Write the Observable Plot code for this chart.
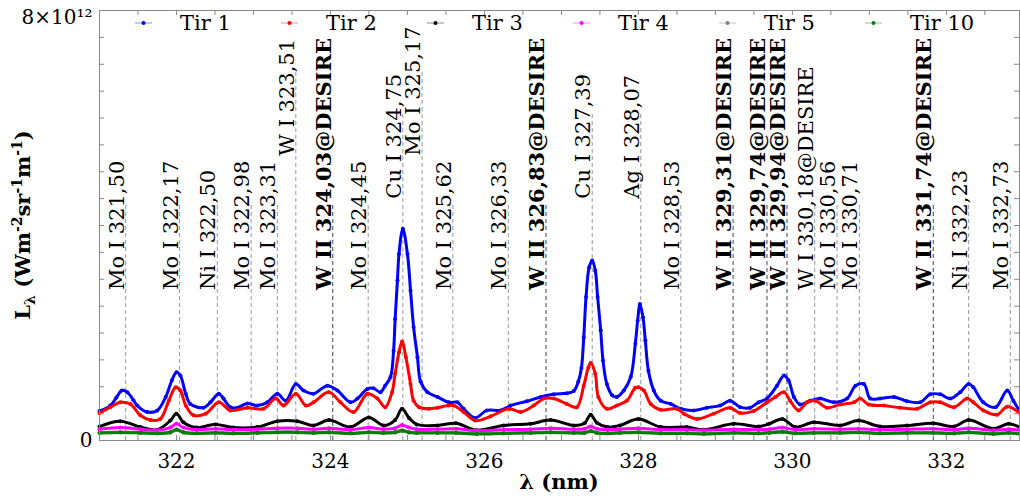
<!DOCTYPE html>
<html><head><meta charset="utf-8">
<script src="https://cdn.jsdelivr.net/npm/d3@7"></script>
<script src="https://cdn.jsdelivr.net/npm/@observablehq/plot@0.6"></script>
<style>
body{margin:0;background:#fff;font-family:"DejaVu Serif",serif;}
#wrap{position:relative;width:1020px;height:500px;}
#legend{position:absolute;left:135px;top:11px;display:flex;font:21px "DejaVu Serif",serif;line-height:24px;color:#000;}
.item{width:146px;display:flex;align-items:center;}
.item svg{margin-right:28px;}
</style></head>
<body><div id="wrap"><div id="chart"></div><div id="legend"></div></div>
<script>
// ---- data (intensity in units of 10^12 W m^-2 sr^-1 m^-1) ----
const series = ["Tir 1","Tir 2","Tir 3","Tir 4","Tir 5","Tir 10"];
const colors = ["#0000ff","#ff0000","#000000","#ff00ff","#808080","#008000"];

const tir1Nm = [321.00,321.14,321.22,321.29,321.36,321.44,321.49,321.62,321.75,321.86,
321.94,322.00,322.05,322.12,322.18,322.35,322.44,322.55,322.61,322.70,
322.79,322.92,323.05,323.18,323.31,323.42,323.55,323.65,323.78,323.96,
324.09,324.26,324.35,324.48,324.56,324.65,324.71,324.78,324.82,324.84,
324.87,324.89,324.94,325.00,325.04,325.08,325.13,325.17,325.26,325.39,
325.54,325.65,325.73,325.88,326.03,326.21,326.34,326.55,326.73,326.90,
327.07,327.16,327.22,327.26,327.29,327.32,327.36,327.40,327.44,327.47,
327.51,327.54,327.59,327.66,327.72,327.81,327.90,327.96,327.99,328.02,
328.06,328.09,328.13,328.20,328.29,328.42,328.55,328.72,328.89,329.06,
329.19,329.32,329.45,329.56,329.67,329.80,329.89,329.95,330.02,330.10,
330.23,330.36,330.54,330.71,330.82,330.93,331.01,331.14,331.32,331.49,
331.66,331.79,331.92,332.05,332.18,332.29,332.35,332.48,332.64,332.79,
332.87,332.96];
const tir1 = [0.55,0.65,0.80,0.93,0.90,0.75,0.65,0.53,0.56,0.81,
1.12,1.27,1.21,0.87,0.68,0.61,0.71,0.87,0.78,0.62,
0.61,0.69,0.65,0.71,0.87,0.74,1.05,0.93,0.87,1.02,
0.93,0.71,0.78,0.96,0.97,0.90,1.02,1.18,1.67,2.26,
2.98,3.47,3.94,3.47,2.79,2.11,1.55,1.10,0.90,0.81,
0.71,0.71,0.59,0.42,0.56,0.56,0.65,0.73,0.81,0.86,
0.88,0.92,1.10,1.35,1.92,2.67,3.22,3.35,3.16,2.67,
2.05,1.49,1.05,0.84,0.81,0.93,1.18,1.80,2.23,2.54,
2.29,1.86,1.30,0.93,0.74,0.68,0.59,0.56,0.61,0.65,
0.74,0.62,0.61,0.71,0.78,1.02,1.21,1.12,0.81,0.67,
0.74,0.78,0.71,0.78,1.02,1.05,0.78,0.78,0.81,0.73,
0.71,0.86,0.86,0.78,0.90,1.05,0.99,0.71,0.62,0.93,
0.74,0.53];

const tir2Nm = [321.00,321.14,321.27,321.40,321.53,321.66,321.79,321.90,321.99,322.05,
322.12,322.22,322.38,322.55,322.70,322.92,323.13,323.29,323.39,323.55,
323.68,323.78,323.98,324.13,324.30,324.48,324.61,324.71,324.80,324.84,
324.89,324.93,324.98,325.04,325.08,325.15,325.28,325.39,325.53,325.60,
325.73,325.88,326.08,326.32,326.47,326.64,326.77,326.90,327.07,327.20,
327.29,327.35,327.38,327.44,327.48,327.59,327.72,327.85,327.96,328.00,
328.07,328.16,328.29,328.50,328.59,328.76,328.98,329.19,329.32,329.50,
329.67,329.78,329.89,329.97,330.08,330.19,330.30,330.45,330.62,330.80,
330.88,330.99,331.19,331.40,331.62,331.79,331.92,332.10,332.27,332.35,
332.48,332.66,332.79,332.96];
const tir2 = [0.51,0.62,0.71,0.68,0.47,0.38,0.40,0.74,0.99,0.93,
0.65,0.47,0.50,0.71,0.56,0.61,0.59,0.78,0.65,0.87,
0.65,0.71,0.90,0.71,0.53,0.87,0.78,0.62,0.90,1.24,
1.64,1.84,1.55,1.05,0.74,0.62,0.59,0.61,0.65,0.65,
0.53,0.37,0.45,0.59,0.53,0.65,0.78,0.78,0.68,0.62,
1.02,1.36,1.44,1.24,0.81,0.59,0.65,0.74,0.98,0.99,
0.93,0.68,0.57,0.59,0.50,0.40,0.50,0.61,0.51,0.55,
0.71,0.81,0.90,0.74,0.56,0.71,0.74,0.61,0.67,0.71,
0.78,0.67,0.65,0.61,0.59,0.71,0.71,0.62,0.78,0.71,
0.56,0.48,0.63,0.50];

const lowNm = [321.00,321.27,321.53,321.75,321.92,322.00,322.09,322.26,322.51,322.74,
323.05,323.31,323.57,323.78,323.98,324.26,324.50,324.69,324.84,324.93,
325.02,325.12,325.39,325.63,325.90,326.25,326.60,326.86,327.16,327.30,
327.38,327.46,327.60,327.76,328.00,328.29,328.63,328.85,329.24,329.56,
329.70,329.87,330.04,330.28,330.62,330.86,331.14,331.49,331.83,332.10,
332.29,332.61,332.81,332.96];
const tir3 = [0.26,0.36,0.25,0.20,0.37,0.50,0.34,0.24,0.30,0.24,
0.25,0.36,0.36,0.28,0.38,0.25,0.43,0.28,0.38,0.59,
0.42,0.30,0.28,0.32,0.19,0.28,0.31,0.38,0.28,0.32,
0.48,0.33,0.25,0.28,0.40,0.25,0.25,0.20,0.31,0.26,
0.31,0.40,0.25,0.34,0.28,0.37,0.26,0.28,0.32,0.26,
0.38,0.22,0.31,0.24];
const tir4 = [0.21,0.24,0.21,0.19,0.24,0.31,0.24,0.20,0.22,0.20,
0.21,0.23,0.23,0.21,0.23,0.20,0.24,0.21,0.23,0.29,
0.24,0.21,0.21,0.22,0.18,0.20,0.21,0.23,0.21,0.22,
0.26,0.22,0.20,0.21,0.23,0.20,0.20,0.19,0.21,0.20,
0.21,0.24,0.20,0.22,0.21,0.22,0.20,0.21,0.22,0.20,
0.23,0.19,0.21,0.19];
const tir5 = [0.15,0.16,0.15,0.14,0.16,0.21,0.16,0.14,0.15,0.14,
0.15,0.16,0.16,0.15,0.16,0.14,0.16,0.15,0.16,0.19,
0.16,0.15,0.15,0.15,0.13,0.14,0.15,0.16,0.15,0.15,
0.18,0.15,0.14,0.15,0.16,0.14,0.14,0.13,0.15,0.14,
0.15,0.17,0.14,0.15,0.15,0.16,0.14,0.15,0.15,0.14,
0.16,0.13,0.15,0.13];
const tir10 = [0.14,0.15,0.14,0.13,0.15,0.20,0.15,0.13,0.14,0.13,
0.14,0.15,0.15,0.14,0.15,0.13,0.15,0.14,0.15,0.18,
0.15,0.14,0.14,0.14,0.12,0.13,0.14,0.15,0.14,0.14,
0.17,0.14,0.13,0.14,0.15,0.13,0.13,0.12,0.14,0.13,
0.14,0.16,0.13,0.14,0.14,0.15,0.13,0.14,0.14,0.13,
0.15,0.12,0.14,0.12];

// identified lines: marker wavelength (as drawn), label, label height (10^12 units)
const lineNm = [321.34,322.04,322.53,322.97,323.31,323.55,324.03,324.49,324.94,325.19,
325.59,326.31,326.80,327.40,328.03,328.55,329.23,329.67,329.93,330.29,
330.58,330.87,331.83,332.29,332.83];
const lineLabel = ["Mo I 321,50","Mo I 322,17","Ni I 322,50","Mo I 322,98","Mo I 323,31",
"W I 323,51","W II 324,03@DESIRE","Mo I 324,45","Cu I 324,75","Mo I 325,17",
"Mo I 325,62","Mo I 326,33","W II 326,83@DESIRE","Cu I 327,39","Ag I 328,07",
"Mo I 328,53","W II 329,31@DESIRE","W II 329,74@DESIRE","W II 329,94@DESIRE","W I 330,18@DESIRE",
"Mo I 330,56","Mo I 330,71","W II 331,74@DESIRE","Ni I 332,23","Mo I 332,73"];
const lineLabelY = [2.8,2.8,2.8,2.8,2.8,5.3,2.8,2.8,4.5,5.3,
2.8,2.8,2.8,4.5,4.5,2.8,2.8,2.8,2.8,2.8,
2.8,2.8,2.8,2.8,2.8];

const xTickLabels = [322,324,326,328,330,332];

// ---- build tables ----
const seriesData = [
  [tir1Nm, tir1], [tir2Nm, tir2], [lowNm, tir3], [lowNm, tir4], [lowNm, tir5], [lowNm, tir10]
].map(([nm, v], i) => nm.map((x, j) => ({series: series[i], nm: x, v: v[j]})));
const labels = lineNm.map((x, i) => ({nm: x, label: lineLabel[i], y: lineLabelY[i], top: lineLabelY[i] + 1.6, bold: lineLabel[i].startsWith("W II")}));
const labN = labels.filter(d => !d.bold), labB = labels.filter(d => d.bold);

const W = 1020, H = 500, mL = 99, mR = 1, mT = 10, mB = 60;
const iw = W - mL - mR, ih = H - mT - mB;
const xMinor = d3.range(321, 333, 0.5);
const yMinor = d3.range(0.5, 8, 0.5);

const dataMarks = [];
seriesData.forEach((rows, i) => {
  dataMarks.push(Plot.line(rows, {x: "nm", y: "v", stroke: colors[i], strokeWidth: 3, curve: "catmull-rom"}));
  dataMarks.push(Plot.dot(rows, {x: "nm", y: "v", r: 2, fill: colors[i]}));
});

const svg = Plot.plot({
  width: W, height: H, marginLeft: mL, marginRight: mR, marginTop: mT, marginBottom: mB,
  style: {fontFamily: "'DejaVu Serif', serif", fontSize: "20px", color: "#000", background: "#fff"},
  x: {domain: [321, 332.95]},
  y: {domain: [0, 8]},
  marks: [
    Plot.ruleX(labN, {x: "nm", y1: 0, y2: "top", stroke: "#999", strokeDasharray: "4,3"}),
    Plot.ruleX(labB, {x: "nm", y1: 0, y2: "top", stroke: "#444", strokeDasharray: "4,3"}),
    ...dataMarks,
    Plot.ruleX(xMinor, {x: d => d, insetTop: ih - 5, stroke: "#888"}),
    Plot.ruleX(xMinor, {x: d => d, insetBottom: ih - 5, stroke: "#888"}),
    Plot.ruleY(yMinor, {y: d => d, insetRight: iw - 5, stroke: "#888"}),
    Plot.ruleY(yMinor, {y: d => d, insetLeft: iw - 5, stroke: "#888"}),
    Plot.frame({stroke: "#888"}),
    Plot.axisX(xTickLabels, {tickSize: 0, tickPadding: 13, fontSize: 20, label: null}),
    Plot.axisY([0], {tickSize: 0, tickPadding: 7, fontSize: 20, label: null, tickFormat: () => "0"}),
    Plot.axisY([8], {tickSize: 0, tickPadding: 7, fontSize: 20, label: null, dy: 7, tickFormat: () => "8×10¹²"}),
    Plot.text(labN, {x: "nm", y: "y", text: "label", rotate: -90, textAnchor: "start", lineAnchor: "bottom", fontSize: 21, fill: "#000", dx: -2}),
    Plot.text(labB, {x: "nm", y: "y", text: "label", rotate: -90, textAnchor: "start", lineAnchor: "bottom", fontSize: 21, fontWeight: "bold", fill: "#000", dx: -2})
  ]
});
document.getElementById("chart").appendChild(svg);

// axis titles with sub/superscripts
const s = d3.select(svg);
s.append("text").attr("x", mL + iw / 2).attr("y", 489).attr("text-anchor", "middle")
  .attr("font-size", 21).attr("font-weight", "bold").attr("fill", "#000").text("λ (nm)");
const yl = s.append("text").attr("transform", `translate(30,${mT + ih / 2}) rotate(-90)`)
  .attr("text-anchor", "middle").attr("font-size", 21).attr("font-weight", "bold").attr("fill", "#000");
yl.append("tspan").text("L");
yl.append("tspan").attr("dy", 5).attr("font-size", 14).text("λ");
yl.append("tspan").attr("dy", -5).text(" (Wm");
yl.append("tspan").attr("dy", -8).attr("font-size", 14).text("-2");
yl.append("tspan").attr("dy", 8).text("sr");
yl.append("tspan").attr("dy", -8).attr("font-size", 14).text("-1");
yl.append("tspan").attr("dy", 8).text("m");
yl.append("tspan").attr("dy", -8).attr("font-size", 14).text("-1");
yl.append("tspan").attr("dy", 8).text(")");

// legend
const lg = d3.select("#legend");
series.forEach((name, i) => {
  const it = lg.append("div").attr("class", "item");
  const sv = it.append("svg").attr("width", 17).attr("height", 8);
  sv.append("line").attr("x1", 0).attr("x2", 17).attr("y1", 4).attr("y2", 4).attr("stroke", colors[i]).attr("stroke-opacity", 0.45);
  sv.append("circle").attr("cx", 8.5).attr("cy", 4).attr("r", 2).attr("fill", colors[i]);
  it.append("span").text(name);
});
</script>
</body></html>
